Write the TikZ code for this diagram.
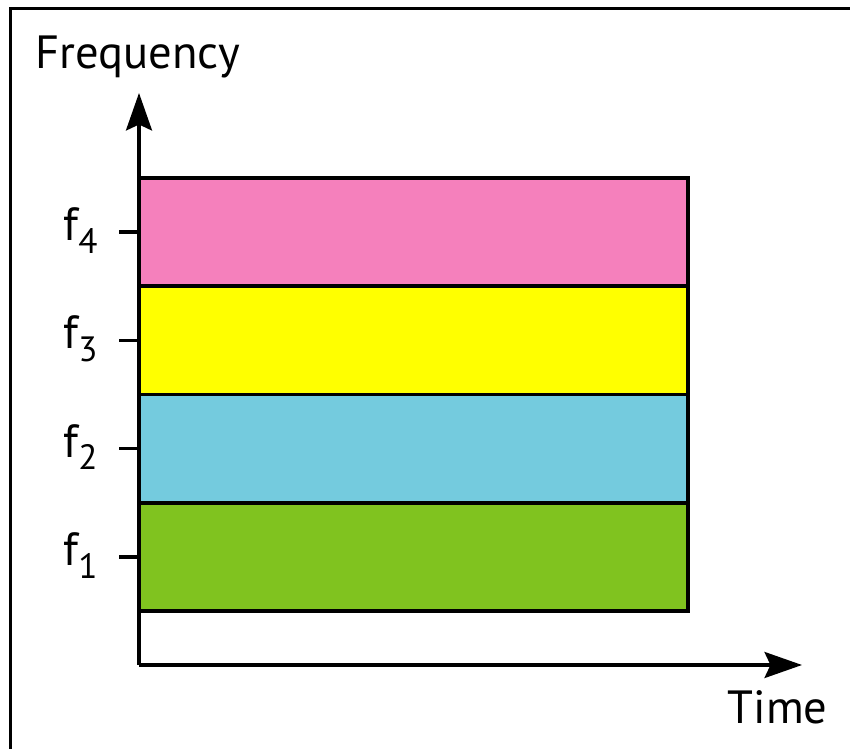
\documentclass[tikz,border=0pt]{standalone}
\usepackage{fontspec}
\setmainfont{PT Sans}
\usetikzlibrary{arrows.meta}
\definecolor{bandgreen}{RGB}{128,195,31}
\definecolor{bandblue}{RGB}{116,203,222}
\definecolor{bandyellow}{RGB}{255,255,0}
\definecolor{bandpink}{RGB}{245,128,188}
\newcommand{\flab}[1]{f\raisebox{-0.55ex}{\fontsize{20}{24}\selectfont #1}}
\tikzset{
	axis/.style={line width=1.9pt,-{Stealth[length=7.5mm,width=5.2mm,inset=1.2mm]}},
	band/.style={draw=black,line width=2pt},
	lab/.style={font=\fontsize{26.5}{30}\selectfont,inner sep=0pt}
}
\begin{document}
\begin{tikzpicture}
\useasboundingbox (0,0) rectangle (17,14.98);
\draw[line width=2pt] (0.21,0) -- (0.21,14.81) -- (17,14.81);
\coordinate (o) at (2.78,1.68);
\coordinate (ytip) at (2.78,13.12);
\coordinate (xtip) at (16.04,1.68);
\foreach \i/\c in {1/bandgreen,2/bandblue,3/bandyellow,4/bandpink}
{
	\draw[band,fill=\c] (2.78,{2.76+(\i-1)*2.165}) rectangle (13.76,{2.76+\i*2.165});
	\coordinate (t\i) at (2.78,{2.76+(\i-0.5)*2.165});
	\draw[line width=1.9pt] (t\i) -- ++(-0.4,0);
	\node[lab,anchor=base east] (f\i) at (1.96,{2.76+(\i-0.5)*2.165-0.17}) {\flab{\i}};
}
\draw[axis] (o) -- (ytip);
\draw[axis] (o) -- (xtip);
\node[lab,anchor=base west] (freq) at (0.7,13.6) {Frequency};
\node[lab,anchor=base west] (time) at (14.55,0.52) {Time};
\end{tikzpicture}
\end{document}
